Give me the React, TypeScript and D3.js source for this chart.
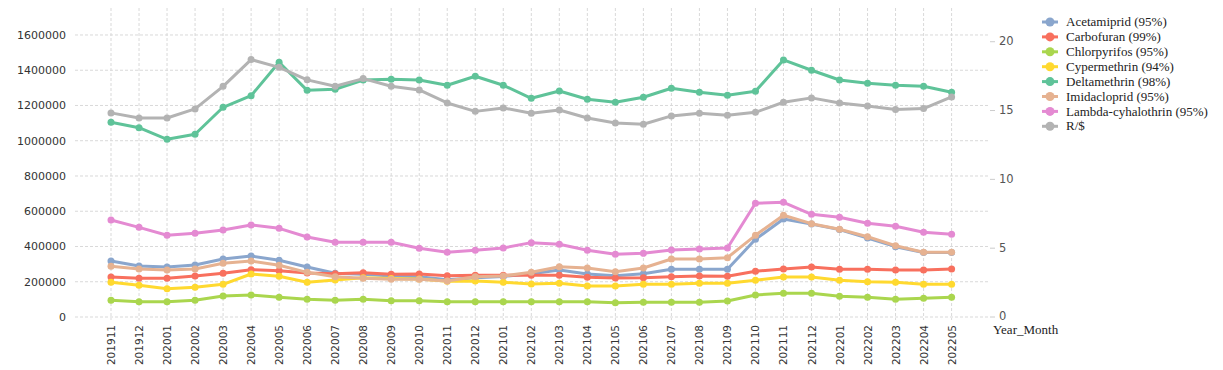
import React from 'react';
import * as d3 from 'd3';

const months = [
  '201911', '201912', '202001', '202002', '202003', '202004', '202005', '202006',
  '202007', '202008', '202009', '202010', '202011', '202012', '202101', '202102',
  '202103', '202104', '202105', '202106', '202107', '202108', '202109', '202110',
  '202111', '202112', '202201', '202202', '202203', '202204', '202205',
];

const acetamiprid = [317700, 289400, 283700, 295000, 329100, 346100, 321500, 283700, 247800, 242100, 232600, 228800, 212000, 222000, 230000, 245900, 266700, 244000, 234500, 245900, 270400, 270400, 270400, 440900, 556000, 527000, 496000, 448000, 398900, 366000, 366000];
const carbofuran = [227000, 219400, 219400, 232600, 247800, 268500, 262900, 249600, 245900, 251500, 242100, 244000, 234500, 236400, 236400, 236400, 236400, 225100, 221300, 223200, 228800, 233000, 230700, 259300, 272300, 283700, 270600, 270600, 266700, 266700, 272300];
const chlorpyrifos = [94600, 87000, 87000, 94600, 119100, 124800, 111600, 100200, 94600, 100200, 92500, 92500, 87000, 87000, 87000, 87000, 87000, 87000, 81300, 83200, 83200, 83200, 90800, 124800, 134500, 134500, 117400, 111800, 100400, 106100, 111800];
const cypermethrin = [196700, 179700, 160800, 168300, 185300, 244000, 230700, 196700, 210000, 222000, 218000, 215000, 203000, 204300, 196700, 187200, 191000, 175900, 175900, 185300, 185300, 191000, 191000, 208200, 227000, 227000, 208200, 200300, 196700, 185300, 185300];
const deltamethrin = [1104700, 1074000, 1008000, 1036600, 1189800, 1255600, 1445000, 1286000, 1292000, 1344700, 1348600, 1344700, 1314600, 1365700, 1314600, 1240900, 1282300, 1235200, 1218200, 1246600, 1297600, 1274900, 1257900, 1280600, 1458200, 1399700, 1344700, 1326000, 1314600, 1309000, 1274900];
const imidacloprid = [287500, 272300, 266700, 272300, 304500, 317700, 293200, 253400, 228800, 219400, 213700, 213700, 204300, 228800, 232600, 253400, 285600, 278000, 257200, 278000, 329100, 329100, 336700, 463500, 577000, 529400, 497600, 455600, 404500, 367100, 367100];
const lambdaCyhalothrin = [550400, 508700, 463400, 474700, 493600, 522000, 503100, 453900, 423600, 423600, 423600, 389600, 366900, 378200, 391500, 421800, 412300, 378200, 355500, 361200, 380100, 385800, 391500, 645100, 650800, 582700, 565700, 531600, 514600, 480600, 469200];
const randPerDollar = [14.83, 14.46, 14.46, 15.12, 16.76, 18.7, 18.14, 17.23, 16.76, 17.32, 16.76, 16.5, 15.55, 14.94, 15.19, 14.8, 15.04, 14.46, 14.1, 14.0, 14.61, 14.8, 14.65, 14.87, 15.6, 15.92, 15.55, 15.33, 15.07, 15.14, 15.99];

const leftTicks = [0, 200000, 400000, 600000, 800000, 1000000, 1200000, 1400000, 1600000];
const rightTicks = [0, 5, 10, 15, 20];

const series = [
  { name: 'Acetamiprid (95%)', values: acetamiprid, color: '#8aa6cd', axis: 'left' },
  { name: 'Carbofuran (99%)', values: carbofuran, color: '#f8705e', axis: 'left' },
  { name: 'Chlorpyrifos (95%)', values: chlorpyrifos, color: '#aad64e', axis: 'left' },
  { name: 'Cypermethrin (94%)', values: cypermethrin, color: '#ffd92f', axis: 'left' },
  { name: 'Deltamethrin (98%)', values: deltamethrin, color: '#5fc399', axis: 'left' },
  { name: 'Imidacloprid (95%)', values: imidacloprid, color: '#e6b291', axis: 'left' },
  { name: 'Lambda-cyhalothrin (95%)', values: lambdaCyhalothrin, color: '#e48ad2', axis: 'left' },
  { name: 'R/$', values: randPerDollar, color: '#b3b3b3', axis: 'right' },
];

export default function App() {
  const width = 1223;
  const height = 370;
  const plotTop = 8;
  const plotBottom = 317;
  const plotLeft = 75;
  const plotRight = 990;

  const x = d3.scalePoint<string>().domain(months).range([111, 951.6]);
  const yLeft = d3.scaleLinear().domain([0, 1753000]).range([plotBottom, plotTop]);
  const yRight = d3.scaleLinear().domain([0, 22.45]).range([plotBottom, plotTop]);

  const axisFont = 'DejaVu Sans, Verdana, sans-serif';
  const legendFont = 'Liberation Serif, Times New Roman, serif';

  return (
    <svg width={width} height={height} style={{ position: 'absolute', left: 0, top: 0, background: '#fff' }}>
      {/* grid */}
      <g stroke="#d9d9d9" strokeDasharray="3,2" strokeWidth={1}>
        {leftTicks.map(t => (
          <line key={'h' + t} x1={plotLeft} x2={plotRight} y1={yLeft(t)} y2={yLeft(t)} />
        ))}
        {months.map(m => (
          <line key={'v' + m} x1={x(m)} x2={x(m)} y1={plotTop} y2={plotBottom + 3} />
        ))}
      </g>

      {/* left axis */}
      <g fontFamily={axisFont} fontSize={11} fill="#333">
        {leftTicks.map(t => (
          <text key={t} x={66} y={yLeft(t)} dy="0.35em" textAnchor="end">{t}</text>
        ))}
      </g>

      {/* right axis */}
      <g fontFamily={axisFont} fontSize={11.5} fill="#555">
        {rightTicks.map(t => (
          <g key={t}>
            <line x1={990} x2={995} y1={yRight(t)} y2={yRight(t)} stroke="#ccc" />
            <text x={999} y={yRight(t)} dy="0.3em">{t}</text>
          </g>
        ))}
      </g>

      {/* x labels */}
      <g fontFamily={axisFont} fontSize={10.5} fill="#333">
        {months.map(m => (
          <text key={m} transform={`translate(${(x(m) || 0) + 4},325) rotate(-90)`} textAnchor="end">{m}</text>
        ))}
      </g>
      <text x={993} y={334} fontFamily={legendFont} fontSize={13} fill="#222">Year_Month</text>

      {/* lines */}
      {series.map(s => {
        const y = s.axis === 'left' ? yLeft : yRight;
        const line = d3.line<number>()
          .x((d, i) => x(months[i]) || 0)
          .y(d => y(d));
        return (
          <g key={s.name}>
            <path d={line(s.values) || ''} fill="none" stroke={s.color} strokeWidth={3} strokeLinejoin="round" />
            {s.values.map((v, i) => (
              <circle key={i} cx={x(months[i])} cy={y(v)} r={3.5} fill={s.color} />
            ))}
          </g>
        );
      })}

      {/* legend */}
      <g fontFamily={legendFont} fontSize={13} fill="#222">
        {series.map((s, i) => {
          const ly = 22 + i * 14.9;
          return (
            <g key={s.name}>
              <line x1={1042} x2={1058} y1={ly} y2={ly} stroke={s.color} strokeWidth={3} />
              <circle cx={1050} cy={ly} r={4.5} fill={s.color} />
              <text x={1066} y={ly} dy="0.32em">{s.name}</text>
            </g>
          );
        })}
      </g>
    </svg>
  );
}
